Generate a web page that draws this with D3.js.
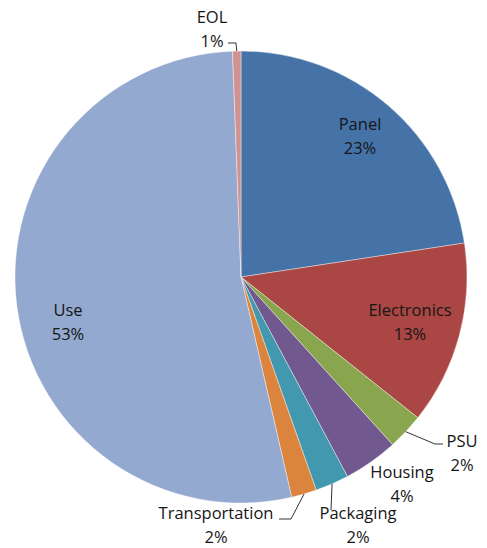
<!DOCTYPE html>
<html>
<head>
<meta charset="utf-8">
<script src="https://cdn.jsdelivr.net/npm/d3@7"></script>
<style>
	body { margin: 0; background: #fff; }
	text { font-family: "Open Sans", "Liberation Sans", sans-serif; font-size: 16.5px; fill: #161616; }
</style>
</head>
<body>
<svg id="svg" width="487" height="548"></svg>
<script>
// slice data (clockwise from 12 o'clock)
const categories = ['Panel', 'Electronics', 'PSU', 'Housing', 'Packaging', 'Transportation', 'Use', 'EOL'];
const shares = [22.6, 13.1, 2.6, 3.9, 2.4, 1.8, 53.0, 0.6];
const pctLabels = ['23%', '13%', '2%', '4%', '2%', '2%', '53%', '1%'];
const colors = ['#4572a7', '#aa4643', '#89a54e', '#71588f', '#4198af', '#db843d', '#93a9cf', '#d09392'];

// label layout (text block centre) and leader elbows for the outside labels
const labelPos = {
	Panel: [360, 136], Electronics: [410, 322], PSU: [462, 453], Housing: [402, 484],
	Packaging: [358, 525], Transportation: [216, 525], Use: [68, 322], EOL: [212, 29]
};
const leaders = {
	PSU: [[435, 444], [443, 444]],
	Packaging: [[331, 510]],
	Transportation: [[291, 519], [279, 519]],
	EOL: [[236, 43], [228, 43]]
};

const cx = 241, cy = 277, R = 226;
const svg = d3.select('#svg');
const g = svg.append('g').attr('transform', `translate(${cx},${cy})`);

const data = categories.map((c, i) => ({ name: c, value: shares[i], pct: pctLabels[i], color: colors[i] }));
const pie = d3.pie().sort(null).value(d => d.value);
const arcs = pie(data);
const arc = d3.arc().innerRadius(0).outerRadius(R);

g.selectAll('path.slice')
	.data(arcs)
	.enter().append('path')
	.attr('class', 'slice')
	.attr('d', arc)
	.attr('fill', d => d.data.color)
	.attr('stroke', '#fff')
	.attr('stroke-width', 0.4);

// leader lines start on the rim at each slice's mid angle
arcs.forEach(d => {
	const pts = leaders[d.data.name];
	if (!pts) return;
	const a = (d.startAngle + d.endAngle) / 2;
	const start = [cx + R * Math.sin(a), cy - R * Math.cos(a)];
	svg.append('path')
		.attr('d', d3.line()([start].concat(pts)))
		.attr('fill', 'none')
		.attr('stroke', '#333')
		.attr('stroke-width', 1);
});

const labels = svg.selectAll('g.label')
	.data(arcs)
	.enter().append('g')
	.attr('class', 'label')
	.attr('transform', d => `translate(${labelPos[d.data.name][0]},${labelPos[d.data.name][1]})`);

labels.append('text')
	.attr('text-anchor', 'middle')
	.attr('y', -6)
	.text(d => d.data.name);
labels.append('text')
	.attr('text-anchor', 'middle')
	.attr('y', 18)
	.text(d => d.data.pct);
</script>
</body>
</html>
